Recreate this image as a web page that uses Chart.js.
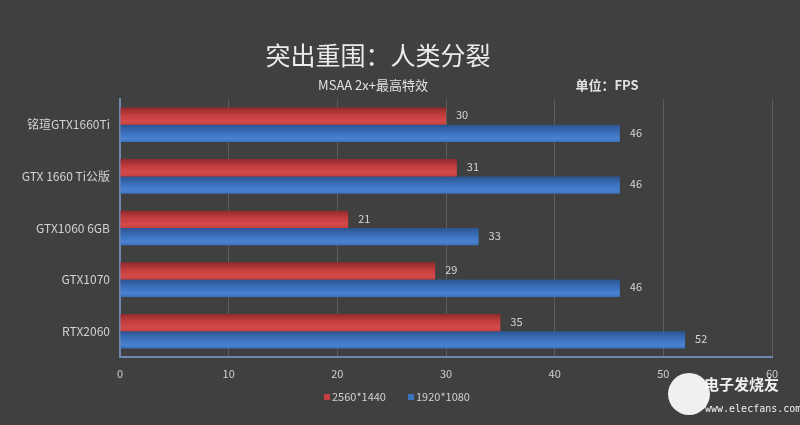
<!DOCTYPE html>
<html>
<head>
<meta charset="utf-8">
<script src="https://cdn.jsdelivr.net/npm/chart.js@4"></script>
<style>
    body { margin: 0; background: #404040; }
    #wrap { width: 800px; height: 425px; }
</style>
</head>
<body>
<div id="wrap"><canvas id="fpsChart" width="800" height="425"></canvas></div>
<script>
const categories = ['铭瑄GTX1660Ti', 'GTX 1660 Ti公版', 'GTX1060 6GB', 'GTX1070', 'RTX2060'];
const fps1440 = [30, 31, 21, 29, 35];
const fps1080 = [46, 46, 33, 46, 52];
const seriesNames = ['2560*1440', '1920*1080'];
const xTicks = [0, 10, 20, 30, 40, 50, 60];

const FONT = '"Noto Sans CJK SC", "Open Sans", sans-serif';

// gradient across bar thickness, darker edges like the original
function barGradient(ctx, top, bottom, dark, mid, light) {
    const g = ctx.createLinearGradient(0, top, 0, bottom);
    g.addColorStop(0, dark);
    g.addColorStop(0.45, mid);
    g.addColorStop(0.8, light);
    g.addColorStop(1, mid);
    return g;
}

const shading = {
    id: 'shading',
    beforeDatasetsDraw(chart) {
        const ctx = chart.ctx;
        const palettes = [
            ['#8f2a2c', '#c63e3f', '#d44a4a'],
            ['#2c5590', '#3b70bd', '#4a82cf']
        ];
        chart.data.datasets.forEach((ds, i) => {
            const p = palettes[i];
            chart.getDatasetMeta(i).data.forEach(el => {
                const top = el.y - el.height / 2;
                // options are shared between bars, so give each bar its own copy
                el.options = Object.assign({}, el.options, {
                    backgroundColor: barGradient(ctx, top, top + el.height, p[0], p[1], p[2])
                });
            });
        });
    }
};

const decorations = {
    id: 'decorations',
    afterDraw(chart) {
        const ctx = chart.ctx;
        ctx.save();

        // value labels
        ctx.font = '11px ' + FONT;
        ctx.fillStyle = '#d6d6d6';
        ctx.textAlign = 'left';
        ctx.textBaseline = 'middle';
        chart.data.datasets.forEach((ds, i) => {
            chart.getDatasetMeta(i).data.forEach((el, j) => {
                ctx.fillText(ds.data[j], el.x + 10, el.y - 1);
            });
        });

        // titles
        ctx.textAlign = 'center';
        ctx.fillStyle = '#ececec';
        ctx.font = '25px ' + FONT;
        ctx.fillText('突出重围：人类分裂', 378, 55);
        ctx.font = '13px ' + FONT;
        ctx.fillStyle = '#e2e2e2';
        ctx.fillText('MSAA 2x+最高特效', 373, 85);
        ctx.font = 'bold 13px ' + FONT;
        ctx.fillText('单位：FPS', 607, 85);

        // legend
        const colors = ['#c63e3f', '#3b70bd'];
        const lx = [324, 408];
        ctx.font = '11px ' + FONT;
        ctx.textAlign = 'left';
        seriesNames.forEach((name, i) => {
            ctx.fillStyle = colors[i];
            ctx.fillRect(lx[i], 394, 6, 6);
            ctx.fillStyle = '#d0d0d0';
            ctx.fillText(name, lx[i] + 8, 397);
        });

        // watermark
        ctx.fillStyle = 'rgba(255,255,255,0.92)';
        ctx.beginPath();
        ctx.arc(689, 394, 21, 0, Math.PI * 2);
        ctx.fill();
        ctx.textAlign = 'left';
        ctx.font = 'bold 15px ' + FONT;
        ctx.fillText('电子发烧友', 704, 384);
        ctx.font = '10px "DejaVu Sans Mono", monospace';
        ctx.fillText('www.elecfans.com', 705, 409);

        ctx.restore();
    }
};

new Chart(document.getElementById('fpsChart'), {
    type: 'bar',
    data: {
        labels: categories,
        datasets: [
            { label: seriesNames[0], data: fps1440, backgroundColor: '#c63e3f' },
            { label: seriesNames[1], data: fps1080, backgroundColor: '#3b70bd' }
        ]
    },
    options: {
        indexAxis: 'y',
        responsive: false,
        animation: false,
        layout: { padding: { top: 99, right: 28, left: 0, bottom: 0 } },
        datasets: {
            bar: { categoryPercentage: 0.67, barPercentage: 1.0 }
        },
        plugins: {
            legend: { display: false },
            tooltip: { enabled: false }
        },
        scales: {
            x: {
                min: 0,
                max: 60,
                afterFit: s => { s.height = 68; },
                afterBuildTicks: s => { s.ticks = xTicks.map(v => ({ value: v })); },
                grid: { color: '#5e5e5e', lineWidth: 1, drawTicks: false },
                border: { color: '#6f87b0', width: 2 },
                ticks: { color: '#cfcfcf', font: { size: 11, family: FONT }, padding: 10 }
            },
            y: {
                afterFit: s => { s.width = 120; },
                grid: { display: false, drawTicks: false },
                border: { color: '#6f87b0', width: 2 },
                ticks: { color: '#d2d2d2', font: { size: 12, family: FONT }, padding: 10 }
            }
        }
    },
    plugins: [shading, decorations]
});
</script>
</body>
</html>
